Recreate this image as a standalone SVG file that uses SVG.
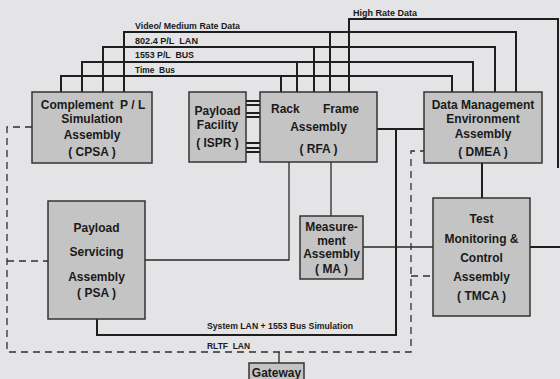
<svg xmlns="http://www.w3.org/2000/svg" width="560" height="379" viewBox="0 0 560 379">
<style>
.bg{fill:#e4e4e6}
.box{fill:#c4c4c4;stroke:#333;stroke-width:1.5}
.t{font-family:"Liberation Sans",Arial,sans-serif;font-weight:bold;font-size:12px;fill:#1a1a1a;text-anchor:middle}
.lbl{font-family:"Liberation Sans",Arial,sans-serif;font-weight:bold;font-size:9px;fill:#1a1a1a}
.bus{fill:none;stroke:#1e1e1e;stroke-width:2}
.thin{fill:none;stroke:#2a2a2a;stroke-width:1.3}
.dash{fill:none;stroke:#2e2e2e;stroke-width:1.3;stroke-dasharray:7 5}
</style>
<rect class="bg" x="0" y="0" width="560" height="379"/>
<g id="connectors">
  <polyline class="bus" points="124,92 124,32 516,32 516,92"/>
  <polyline class="bus" points="103,92 103,47 495,47 495,92"/>
  <polyline class="bus" points="82,92 82,62 473,62 473,92"/>
  <polyline class="bus" points="61,92 61,76 452,76 452,92"/>
  <line class="bus" x1="330" y1="32" x2="330" y2="92"/>
  <line class="bus" x1="314" y1="47" x2="314" y2="92"/>
  <line class="bus" x1="297" y1="62" x2="297" y2="92"/>
  <line class="bus" x1="281" y1="76" x2="281" y2="92"/>
  <polyline class="bus" points="349,92 349,19 558,19 558,168"/>
  <g class="bus">
    <line x1="246" y1="101" x2="260" y2="101"/>
    <line x1="246" y1="105" x2="260" y2="105"/>
    <line x1="246" y1="113" x2="260" y2="113"/>
    <line x1="246" y1="117" x2="260" y2="117"/>
    <line x1="246" y1="143" x2="260" y2="143"/>
    <line x1="246" y1="148" x2="260" y2="148"/>
    <line x1="246" y1="152" x2="260" y2="152"/>
  </g>
  <line class="bus" x1="377" y1="129" x2="424" y2="129"/>
  <polyline class="bus" points="97,319 97,335 396,335 396,129"/>
  <line class="bus" x1="482" y1="163" x2="482" y2="198"/>
  <line class="bus" x1="530" y1="247" x2="560" y2="247"/>
  <polyline class="thin" points="145,260 289,260 289,162"/>
  <line class="thin" x1="331" y1="162" x2="331" y2="216"/>
  <line class="thin" x1="363" y1="247" x2="433" y2="247"/>
  <line class="thin" x1="279" y1="352" x2="279" y2="363"/>
  <polyline class="dash" points="32,127 7,127 7,352 411,352 411,151 424,151"/>
  <line class="dash" x1="7" y1="261" x2="48" y2="261"/>
  <line class="dash" x1="411" y1="276" x2="433" y2="276"/>
  <text class="lbl" x="135" y="29" textLength="105" lengthAdjust="spacingAndGlyphs">Video/ Medium Rate Data</text>
  <text class="lbl" x="135" y="43.5" textLength="63" lengthAdjust="spacingAndGlyphs" xml:space="preserve">802.4 P/L  LAN</text>
  <text class="lbl" x="135" y="58" textLength="59" lengthAdjust="spacingAndGlyphs" xml:space="preserve">1553 P/L  BUS</text>
  <text class="lbl" x="135" y="72.5" textLength="40" lengthAdjust="spacingAndGlyphs" xml:space="preserve">Time  Bus</text>
  <text class="lbl" x="353" y="15.5" textLength="64" lengthAdjust="spacingAndGlyphs">High Rate Data</text>
  <text class="lbl" x="207" y="329" textLength="146" lengthAdjust="spacingAndGlyphs">System LAN + 1553 Bus Simulation</text>
  <text class="lbl" x="207" y="348.5" textLength="43" lengthAdjust="spacingAndGlyphs" xml:space="preserve">RLTF  LAN</text>
</g>
<g id="CPSA">
  <rect class="box" x="32" y="92" width="120" height="71"/>
  <text class="t" x="93" y="109" xml:space="preserve">Complement  P / L</text>
  <text class="t" x="92" y="122.5">Simulation</text>
  <text class="t" x="92" y="139">Assembly</text>
  <text class="t" x="92" y="156">( CPSA )</text>
</g>
<g id="ISPR">
  <rect class="box" x="189" y="92" width="57" height="70"/>
  <text class="t" x="217.5" y="115">Payload</text>
  <text class="t" x="217.5" y="128.5">Facility</text>
  <text class="t" x="217.5" y="146.5">( ISPR )</text>
</g>
<g id="RFA">
  <rect class="box" x="260" y="92" width="117" height="70"/>
  <text class="t" x="315" y="113" xml:space="preserve">Rack       Frame</text>
  <text class="t" x="318.5" y="131">Assembly</text>
  <text class="t" x="318.5" y="153">( RFA )</text>
</g>
<g id="DMEA">
  <rect class="box" x="424" y="92" width="118" height="71"/>
  <text class="t" x="483" y="109">Data Management</text>
  <text class="t" x="483" y="123">Environment</text>
  <text class="t" x="483" y="137.5">Assembly</text>
  <text class="t" x="483" y="156">( DMEA )</text>
</g>
<g id="PSA">
  <rect class="box" x="48" y="201" width="97" height="118"/>
  <text class="t" x="96.5" y="231.5">Payload</text>
  <text class="t" x="96.5" y="256">Servicing</text>
  <text class="t" x="96.5" y="281">Assembly</text>
  <text class="t" x="96.5" y="297">( PSA )</text>
</g>
<g id="MA">
  <rect class="box" x="300" y="216" width="63" height="63"/>
  <text class="t" x="331.5" y="231">Measure-</text>
  <text class="t" x="331.5" y="245">ment</text>
  <text class="t" x="331.5" y="258">Assembly</text>
  <text class="t" x="331.5" y="273">( MA )</text>
</g>
<g id="TMCA">
  <rect class="box" x="433" y="198" width="97" height="118"/>
  <text class="t" x="481.5" y="223">Test</text>
  <text class="t" x="481.5" y="243">Monitoring &amp;</text>
  <text class="t" x="481.5" y="262">Control</text>
  <text class="t" x="481.5" y="281">Assembly</text>
  <text class="t" x="481.5" y="299.5">( TMCA )</text>
</g>
<g id="Gateway">
  <rect class="box" x="249" y="363" width="55" height="20"/>
  <text class="t" x="276.5" y="377">Gateway</text>
</g>
</svg>
